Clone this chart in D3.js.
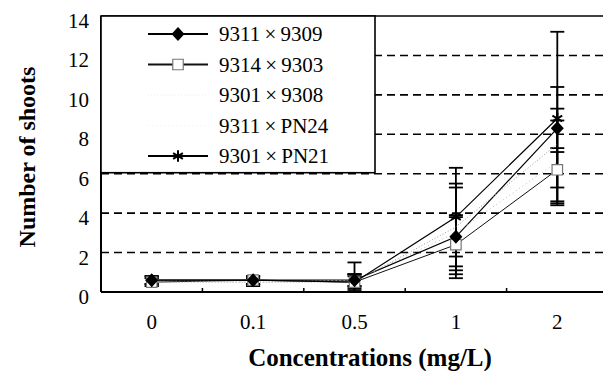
<!DOCTYPE html>
<html>
<head>
<meta charset="utf-8">
<script src="https://cdn.jsdelivr.net/npm/d3@7"></script>
<style>
  body { margin: 0; background: #fff; }
  text { font-family: "Liberation Serif", "Times New Roman", serif; fill: #000; }
</style>
</head>
<body>
<div id="chart"></div>
<script>
// concentrations on the x axis
const categories = ['0', '0.1', '0.5', '1', '2'];
const yTicks = [0, 2, 4, 6, 8, 10, 12, 14];

// mean number of shoots per cross
const s9311x9309 = [0.6, 0.6, 0.6, 2.8, 8.3];
const s9314x9303 = [0.5, 0.6, 0.5, 2.4, 6.2];
const s9301x9308 = [0.5, 0.5, 0.5, 3.3, 7.5];
const s9311xPN24 = [0.6, 0.5, 0.6, 3.0, 6.6];
const s9301xPN21 = [0.6, 0.6, 0.5, 3.8, 8.8];

// error bar half-lengths
const e9311x9309 = [0.2, 0.2, 0.3, 1.0, 1.0];
const e9314x9303 = [0.2, 0.2, 0.4, 1.5, 0.9];
const e9301x9308 = [0.2, 0.2, 0.3, 2.2, 2.9];
const e9311xPN24 = [0.2, 0.2, 0.3, 2.3, 2.1];
const e9301xPN21 = [0.2, 0.2, 1.0, 2.5, 4.4];

const seriesNames = ['9311\u2009×\u20099309', '9314\u2009×\u20099303', '9301\u2009×\u20099308', '9311\u2009×\u2009PN24', '9301\u2009×\u2009PN21'];

const series = [
  { name: seriesNames[0], values: s9311x9309, err: e9311x9309, stroke: '#000', width: 1.2, dash: null, marker: 'diamond' },
  { name: seriesNames[1], values: s9314x9303, err: e9314x9303, stroke: '#111', width: 1, dash: null, marker: 'square' },
  { name: seriesNames[2], values: s9301x9308, err: e9301x9308, stroke: '#999', width: 1, dash: '1,2', marker: null },
  { name: seriesNames[3], values: s9311xPN24, err: e9311xPN24, stroke: '#bbb', width: 1, dash: '1,3', marker: null },
  { name: seriesNames[4], values: s9301xPN21, err: e9301xPN21, stroke: '#000', width: 1.2, dash: null, marker: 'star' }
];

const serif = '"Liberation Serif", "Times New Roman", serif';
const W = 603, H = 371;
const margin = { top: 16, left: 101, bottom: 79 };
const plotRight = 608;

const svg = d3.select('#chart').append('svg')
  .attr('width', W)
  .attr('height', H);

const x = d3.scaleBand()
  .domain(categories)
  .range([margin.left, plotRight])
  .padding(0);

const y = d3.scaleLinear()
  .domain([0, 14])
  .range([H - margin.bottom, margin.top]);

const cx = d => x(d) + x.bandwidth() / 2;

// dashed gridlines
svg.append('g')
  .selectAll('line')
  .data(yTicks.filter(t => t > 0 && t < 14))
  .enter().append('line')
  .attr('x1', margin.left)
  .attr('x2', W)
  .attr('y1', d => y(d))
  .attr('y2', d => y(d))
  .attr('stroke', '#000')
  .attr('stroke-width', 1.6)
  .attr('stroke-dasharray', '8,5');

// top frame line
svg.append('line')
  .attr('x1', margin.left).attr('x2', W)
  .attr('y1', y(14)).attr('y2', y(14))
  .attr('stroke', '#000').attr('stroke-width', 1.5);

// x axis with inward ticks between categories
const xAxis = d3.axisBottom(x).tickSize(0).tickPadding(22);
const gx = svg.append('g')
  .attr('transform', 'translate(0,' + y(0) + ')')
  .call(xAxis);
gx.select('.domain').remove();
gx.selectAll('text')
  .style('font-size', '21px')
  .style('font-family', serif);
svg.append('line')
  .attr('x1', margin.left).attr('x2', W)
  .attr('y1', y(0)).attr('y2', y(0))
  .attr('stroke', '#000').attr('stroke-width', 2.2);
svg.append('g')
  .selectAll('line')
  .data(categories.slice(1))
  .enter().append('line')
  .attr('x1', d => x(d))
  .attr('x2', d => x(d))
  .attr('y1', y(0))
  .attr('y2', y(0) - 4)
  .attr('stroke', '#000')
  .attr('stroke-width', 1.5);

// y axis
const yAxis = d3.axisLeft(y).tickValues(yTicks).tickSize(0).tickPadding(12);
const gy = svg.append('g')
  .attr('transform', 'translate(' + margin.left + ',0)')
  .call(yAxis);
gy.select('.domain').remove();
gy.selectAll('text')
  .attr('dy', '0.55em')
  .style('font-size', '21px')
  .style('font-family', serif);
svg.append('line')
  .attr('x1', margin.left).attr('x2', margin.left)
  .attr('y1', y(14)).attr('y2', y(0))
  .attr('stroke', '#000').attr('stroke-width', 2);

// legend box
const legend = svg.append('g');
legend.append('rect')
  .attr('x', margin.left)
  .attr('y', y(14))
  .attr('width', 274)
  .attr('height', y(6) - y(14) - 1)
  .attr('fill', '#fff')
  .attr('stroke', '#000')
  .attr('stroke-width', 1.6);

function drawMarker(g, m, px, py) {
  if (!m) return;
  if (m === 'diamond') {
    g.append('path').attr('d', 'M0,-7L6.5,0L0,7L-6.5,0Z')
      .attr('transform', 'translate(' + px + ',' + py + ')')
      .attr('fill', '#000');
  } else if (m === 'square') {
    g.append('path').attr('d', d3.symbol(d3.symbolSquare, 110)())
      .attr('transform', 'translate(' + px + ',' + py + ')')
      .attr('fill', '#fff').attr('stroke', '#777').attr('stroke-width', 1.2);
  } else {
    g.append('path').attr('d', d3.symbol(d3.symbolAsterisk, 90)())
      .attr('transform', 'translate(' + px + ',' + py + ')')
      .attr('fill', 'none').attr('stroke', '#000').attr('stroke-width', 2);
  }
}

series.forEach((s, i) => {
  const ly = 34 + i * 30.5;
  const row = legend.append('g');
  if (s.dash === null) {
    row.append('line')
      .attr('x1', 148).attr('x2', 208)
      .attr('y1', ly).attr('y2', ly)
      .attr('stroke', s.stroke).attr('stroke-width', 1.8);
  } else {
    row.append('line')
      .attr('x1', 148).attr('x2', 208)
      .attr('y1', ly).attr('y2', ly)
      .attr('stroke', '#eee').attr('stroke-width', 1)
      .attr('stroke-dasharray', s.dash);
  }
  drawMarker(row, s.marker, 178, ly);
  row.append('text')
    .attr('x', 219)
    .attr('y', ly)
    .attr('dy', '0.35em')
    .style('font-size', '21px')
    .style('font-family', serif)
    .text(s.name);
});

// lines
const line = d3.line()
  .x((d, i) => cx(categories[i]))
  .y(d => y(d));

const plot = svg.append('g');

// error bars
series.forEach(s => {
  const g = plot.append('g');
  s.values.forEach((v, i) => {
    const px = cx(categories[i]);
    const e = s.err[i];
    g.append('line')
      .attr('x1', px).attr('x2', px)
      .attr('y1', y(v + e)).attr('y2', y(Math.max(0, v - e)))
      .attr('stroke', '#000').attr('stroke-width', 1.8);
    [v + e, v - e].forEach(t => {
      if (t <= 0) return;
      g.append('line')
        .attr('x1', px - 7).attr('x2', px + 7)
        .attr('y1', y(t)).attr('y2', y(t))
        .attr('stroke', '#000').attr('stroke-width', 1.8);
    });
  });
});

series.forEach(s => {
  plot.append('path')
    .datum(s.values)
    .attr('d', line)
    .attr('fill', 'none')
    .attr('stroke', s.stroke)
    .attr('stroke-width', s.width)
    .attr('stroke-dasharray', s.dash);
});

series.slice().reverse().forEach(s => {
  const g = plot.append('g');
  s.values.forEach((v, i) => drawMarker(g, s.marker, cx(categories[i]), y(v)));
});

// axis titles
svg.append('text')
  .attr('transform', 'translate(35,' + 157 + ') rotate(-90)')
  .attr('text-anchor', 'middle')
  .style('font-size', '24px')
  .style('font-weight', 'bold')
  .style('font-family', serif)
  .text('Number of shoots');

svg.append('text')
  .attr('x', 370)
  .attr('y', 366)
  .attr('text-anchor', 'middle')
  .style('font-size', '25px')
  .style('font-weight', 'bold')
  .style('font-family', serif)
  .text('Concentrations (mg/L)');
</script>
</body>
</html>
